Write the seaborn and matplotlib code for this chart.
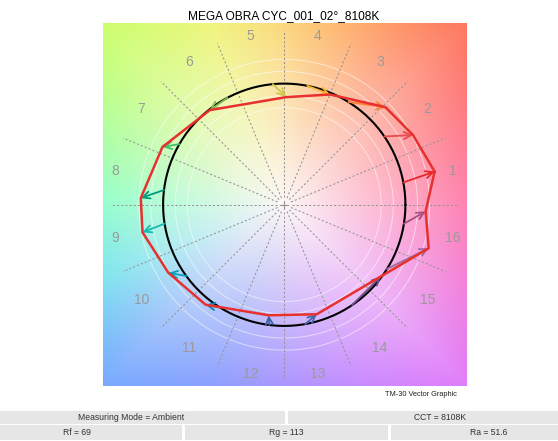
import numpy as np
import pandas as pd
import matplotlib
matplotlib.use("Agg")
import matplotlib.pyplot as plt
from matplotlib.patches import Rectangle
import seaborn as sns

# ---------------- data ----------------
title = "MEGA OBRA CYC_001_02°_8108K"
bin_labels = [str(i) for i in range(1, 17)]
ref_hue_deg = [10.6, 34.3, 58.0, 79.0, 95.4, 118.0, 150.0, 173.0,
               189.0, 216.0, 238.0, 263.0, 280.0, 304.0, 328.0, 351.0]
test_x = [1.241, 1.063, 0.836, 0.378, 0.016, -0.614, -1.005, -1.184,
          -1.170, -0.956, -0.649, -0.129, 0.268, 0.797, 1.192, 1.167]
test_y = [0.274, 0.575, 0.805, 0.910, 0.888, 0.781, 0.477, 0.055,
          -0.227, -0.562, -0.825, -0.912, -0.904, -0.592, -0.359, -0.055]
hue_colors = ['#e62828', '#e74b4b', '#fb812e', '#ffb529', '#cbca46', '#7eb94c',
              '#41c06d', '#009c7c', '#16bcb0', '#00a4bf', '#0085c3', '#3b62aa',
              '#4568ae', '#6a4e85', '#9d69a1', '#a74f81']
table_row1 = ["Measuring Mode = Ambient", "CCT = 8108K"]
table_row2 = ["Rf = 69", "Rg = 113", "Ra = 51.6"]

# ---------------- style ----------------
sns.set_theme(style="white")
plt.rcParams['font.family'] = ['Liberation Sans', 'DejaVu Sans']

W, H = 558, 441
fig = plt.figure(figsize=(W / 100, H / 100), dpi=100)
ax = fig.add_axes([102.5 / W, 1 - 386.5 / H, 363.5 / W, 363.5 / H])

# ---------------- background hue wheel ----------------
anch_ang = np.arange(0, 360, 22.5)
anch_col = np.array([
    (255, 132, 178), (255, 125, 140), (255, 120, 95), (255, 172, 110),
    (252, 215, 125), (240, 245, 125), (205, 255, 110), (178, 255, 160),
    (150, 255, 205), (130, 228, 240), (120, 170, 255), (140, 160, 255),
    (172, 150, 255), (200, 140, 255), (225, 125, 250), (245, 130, 215)]) / 255.0
center_col = np.array([252, 246, 246]) / 255.0
N = 400
g = np.linspace(-1.5, 1.5, N)
X, Y = np.meshgrid(g, g)
th = np.degrees(np.arctan2(Y, X)) % 360
R = np.hypot(X, Y)
redge = 1.5 / np.maximum(np.abs(np.cos(np.radians(th))), np.abs(np.sin(np.radians(th))))
w = np.clip(R / redge, 0, 1) ** 1.0
angs = np.append(anch_ang, 360)
img = np.zeros((N, N, 3))
for c in range(3):
    cols = np.append(anch_col[:, c], anch_col[0, c])
    Cc = np.interp(th, angs, cols)
    img[..., c] = center_col[c] + (Cc - center_col[c]) * w
ax.imshow(img, extent=[-1.5, 1.5, -1.5, 1.5], origin='lower',
          interpolation='bilinear', zorder=0)

# white guide circles
t = np.linspace(0, 2 * np.pi, 361)
for rr in [0.8, 0.9, 1.1, 1.2]:
    ax.plot(rr * np.cos(t), rr * np.sin(t), color='white', lw=0.7, alpha=0.55, zorder=1)

# radial dashed lines
for k in range(16):
    a = np.radians(k * 22.5)
    ax.plot([0.06 * np.cos(a), 1.44 * np.cos(a)], [0.06 * np.sin(a), 1.44 * np.sin(a)],
            ls=(0, (2, 2)), color='#949494', lw=0.75, zorder=2)
ax.plot([-0.035, 0.035], [0, 0], color='#949494', lw=0.8, zorder=2)
ax.plot([0, 0], [-0.035, 0.035], color='#949494', lw=0.8, zorder=2)

# bin labels
for i, lab in enumerate(bin_labels):
    a = np.radians(11.25 + 22.5 * i)
    ax.text(1.42 * np.cos(a), 1.42 * np.sin(a), lab, ha='center', va='center',
            color='#9a9a9a', fontsize=10, zorder=3)

# reference circle
circ = pd.DataFrame({'x': np.cos(t), 'y': np.sin(t)})
sns.lineplot(data=circ, x='x', y='y', sort=False, estimator=None, color='black',
             lw=1.5, ax=ax, zorder=4)

# arrows
for i in range(16):
    a = np.radians(ref_hue_deg[i])
    ax.annotate("", xy=(test_x[i], test_y[i]), xytext=(np.cos(a), np.sin(a)),
                arrowprops=dict(arrowstyle='->', color=hue_colors[i], lw=1.3,
                                mutation_scale=13, shrinkA=0, shrinkB=0),
                zorder=5)

# test polygon
poly = pd.DataFrame({'x': test_x + [test_x[0]], 'y': test_y + [test_y[0]]})
sns.lineplot(data=poly, x='x', y='y', sort=False, estimator=None, color='#e8302e',
             lw=1.8, ax=ax, zorder=6)

ax.set_xlim(-1.5, 1.5)
ax.set_ylim(-1.5, 1.5)
ax.set_aspect('equal')
ax.axis('off')

# ---------------- texts ----------------
fig.text(284 / W, 1 - 16 / H, title, ha='center', va='center', fontsize=8.6, color='black')
fig.text(421 / W, 1 - 394.5 / H, "TM-30 Vector Graphic", ha='center', va='center',
         fontsize=5.3, color='#222222')

def cell(x0, x1, y0, y1, txt):
    fig.add_artist(Rectangle((x0 / W, 1 - y1 / H), (x1 - x0) / W, (y1 - y0) / H,
                             transform=fig.transFigure, facecolor='#e6e6e6',
                             edgecolor='none'))
    fig.text((x0 + x1) / 2 / W, 1 - (y0 + y1) / 2 / H, txt, ha='center', va='center',
             fontsize=6.2, color='#333333')

cell(-23, 285, 410.7, 424.0, table_row1[0])
cell(288, 592, 410.7, 424.0, table_row1[1])
cell(-28, 182, 424.8, 439.5, table_row2[0])
cell(185, 388, 424.8, 439.5, table_row2[1])
cell(391, 587, 424.8, 439.5, table_row2[2])

fig.savefig("out.png", dpi=100)
